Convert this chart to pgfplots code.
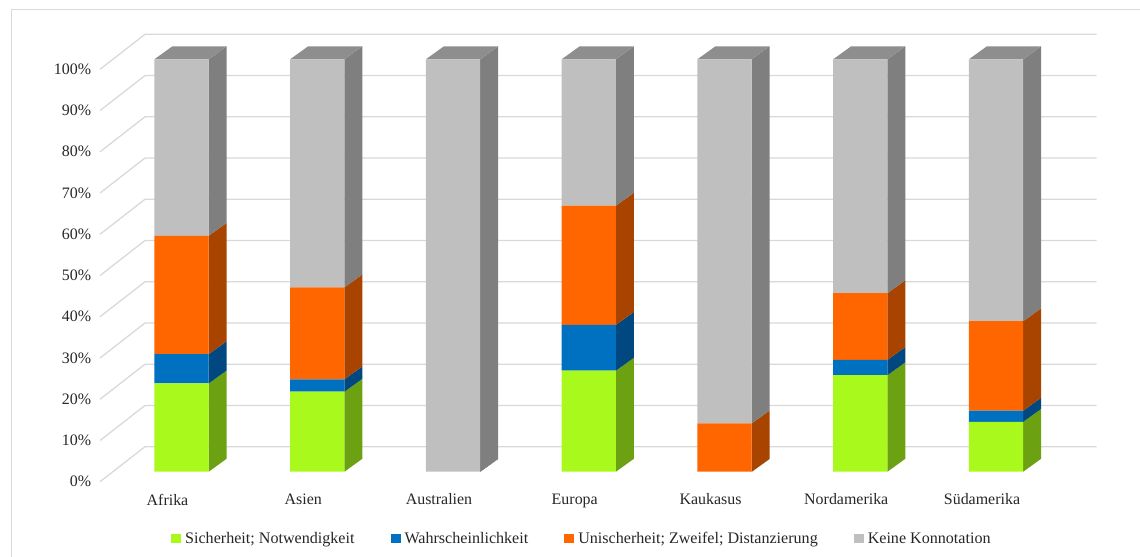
\documentclass[border=0pt]{standalone}
\usepackage{fontspec}
\setmainfont{Liberation Serif}
\usepackage{pgfplots}
\usepackage{pgfplotstable}
\pgfplotsset{compat=1.18}

\definecolor{gF}{HTML}{AAF91C}
\definecolor{gS}{HTML}{6CA212}
\definecolor{bF}{HTML}{0070C0}
\definecolor{bS}{HTML}{00487F}
\definecolor{oF}{HTML}{FF6600}
\definecolor{oS}{HTML}{A84400}
\definecolor{kF}{HTML}{BFBFBF}
\definecolor{kS}{HTML}{7F7F7F}
\definecolor{kT}{HTML}{8E8E8E}
\definecolor{gridc}{HTML}{D9D9D9}

% shares in percent, bottom to top
\pgfplotstableread{
cat g b o k
Afrika 21.4 7.1 28.7 42.8
Asien 19.4 3.0 22.3 55.3
Australien 0 0 0 100
Europa 24.5 11.1 28.9 35.5
Kaukasus 0 0 11.7 88.3
Nordamerika 23.4 3.7 16.2 56.7
Südamerika 12.1 2.7 21.7 63.5
}\data

\pgfplotsset{base/.style={
  x=135.75bp, y=4.124bp,
  xmin=-0.64, xmax=6.9, ymin=-4.5, ymax=110,
  clip=false, axis line style={draw=none}, tick style={draw=none},
  at={(94.6bp,66.7bp)}, anchor=south west}}

% side face of one stack segment (depth 0.1326 x, 3.15 y)
\newcommand\sideface[3]{%
  \pgfmathsetmacro\lo{#2}\pgfmathsetmacro\hi{#3}%
  \pgfmathsetmacro\loy{\lo+3.15}\pgfmathsetmacro\hiy{\hi+3.15}%
  \edef\tmp{\noexpand\addplot[fill=#1,draw=none,forget plot] coordinates {(\xa,\lo) (\xb,\loy) (\xb,\hiy) (\xa,\hi)};}\tmp}

\begin{document}
\begin{tikzpicture}
\useasboundingbox (0,0) rectangle (1140bp,557bp);
\draw[gridc, line width=1bp] (11bp,0) -- (11bp,547bp) -- (1140bp,547bp);

\begin{axis}[base,
  ytick={-2.42,7.58,17.58,27.58,37.58,47.58,57.58,67.58,77.58,87.58,97.58},
  yticklabels={0\%,10\%,20\%,30\%,40\%,50\%,60\%,70\%,80\%,90\%,100\%},
  xtick={-0.103,0.897,1.897,2.897,3.897,4.897,5.897},
  xticklabels={Afrika,Asien,Australien,Europa,Kaukasus,Nordamerika,Südamerika},
  ticklabel style={font=\fontsize{16}{19}\selectfont, text=black!85}]
% back wall and left wall grid
\pgfplotsinvokeforeach{0,10,...,100}{
  \addplot[gridc, line width=1.3bp, forget plot] table[row sep=\\, y expr=\thisrow{y}+#1]
    {x y\\ -0.600 -2.42\\ -0.269 6.06\\ 6.742 6.06\\};
}
% side and top faces of the columns
\pgfplotsforeachungrouped \i in {0,...,6}{%
  \pgfplotstablegetelem{\i}{g}\of\data\let\vg\pgfplotsretval
  \pgfplotstablegetelem{\i}{b}\of\data\let\vb\pgfplotsretval
  \pgfplotstablegetelem{\i}{o}\of\data\let\vo\pgfplotsretval
  \pgfplotstablegetelem{\i}{k}\of\data\let\vk\pgfplotsretval
  \pgfmathsetmacro\xa{\i+0.2}\pgfmathsetmacro\xb{\i+0.3326}%
  \pgfmathsetmacro\ca{\vg}\pgfmathsetmacro\cb{\ca+\vb}%
  \pgfmathsetmacro\cc{\cb+\vo}\pgfmathsetmacro\cd{\cc+\vk}%
  \sideface{gS}{0}{\ca}%
  \sideface{bS}{\ca}{\cb}%
  \sideface{oS}{\cb}{\cc}%
  \sideface{kS}{\cc}{\cd}%
  \pgfmathsetmacro\xl{\i-0.2}\pgfmathsetmacro\xlb{\i-0.0674}\pgfmathsetmacro\ty{\cd+3.15}%
  \edef\tmp{\noexpand\addplot[fill=kT,draw=none,forget plot] coordinates {(\xl,\cd) (\xa,\cd) (\xb,\ty) (\xlb,\ty)};}\tmp
}
\end{axis}

\begin{axis}[base, xtick=\empty, ytick=\empty,
  ybar stacked, bar width=0.4,
  legend image code/.code={\fill[#1] (0bp,-4.5bp) rectangle (10bp,4.5bp); \path (12bp,0bp);},
  legend style={draw=none, fill=none, legend columns=4,
    at={(0.0717,-0.103)}, anchor=west,
    font=\fontsize{16.15}{19}\selectfont, text=black!85,
    /tikz/every even column/.append style={column sep=34bp}}]
\addplot[fill=gF, draw=none] table[x expr=\coordindex, y=g] {\data};
\addlegendentry{Sicherheit; Notwendigkeit}
\addplot[fill=bF, draw=none] table[x expr=\coordindex, y=b] {\data};
\addlegendentry{Wahrscheinlichkeit}
\addplot[fill=oF, draw=none] table[x expr=\coordindex, y=o] {\data};
\addlegendentry{Unischerheit; Zweifel; Distanzierung}
\addplot[fill=kF, draw=none] table[x expr=\coordindex, y=k] {\data};
\addlegendentry{Keine Konnotation}
\end{axis}
\end{tikzpicture}
\end{document}
